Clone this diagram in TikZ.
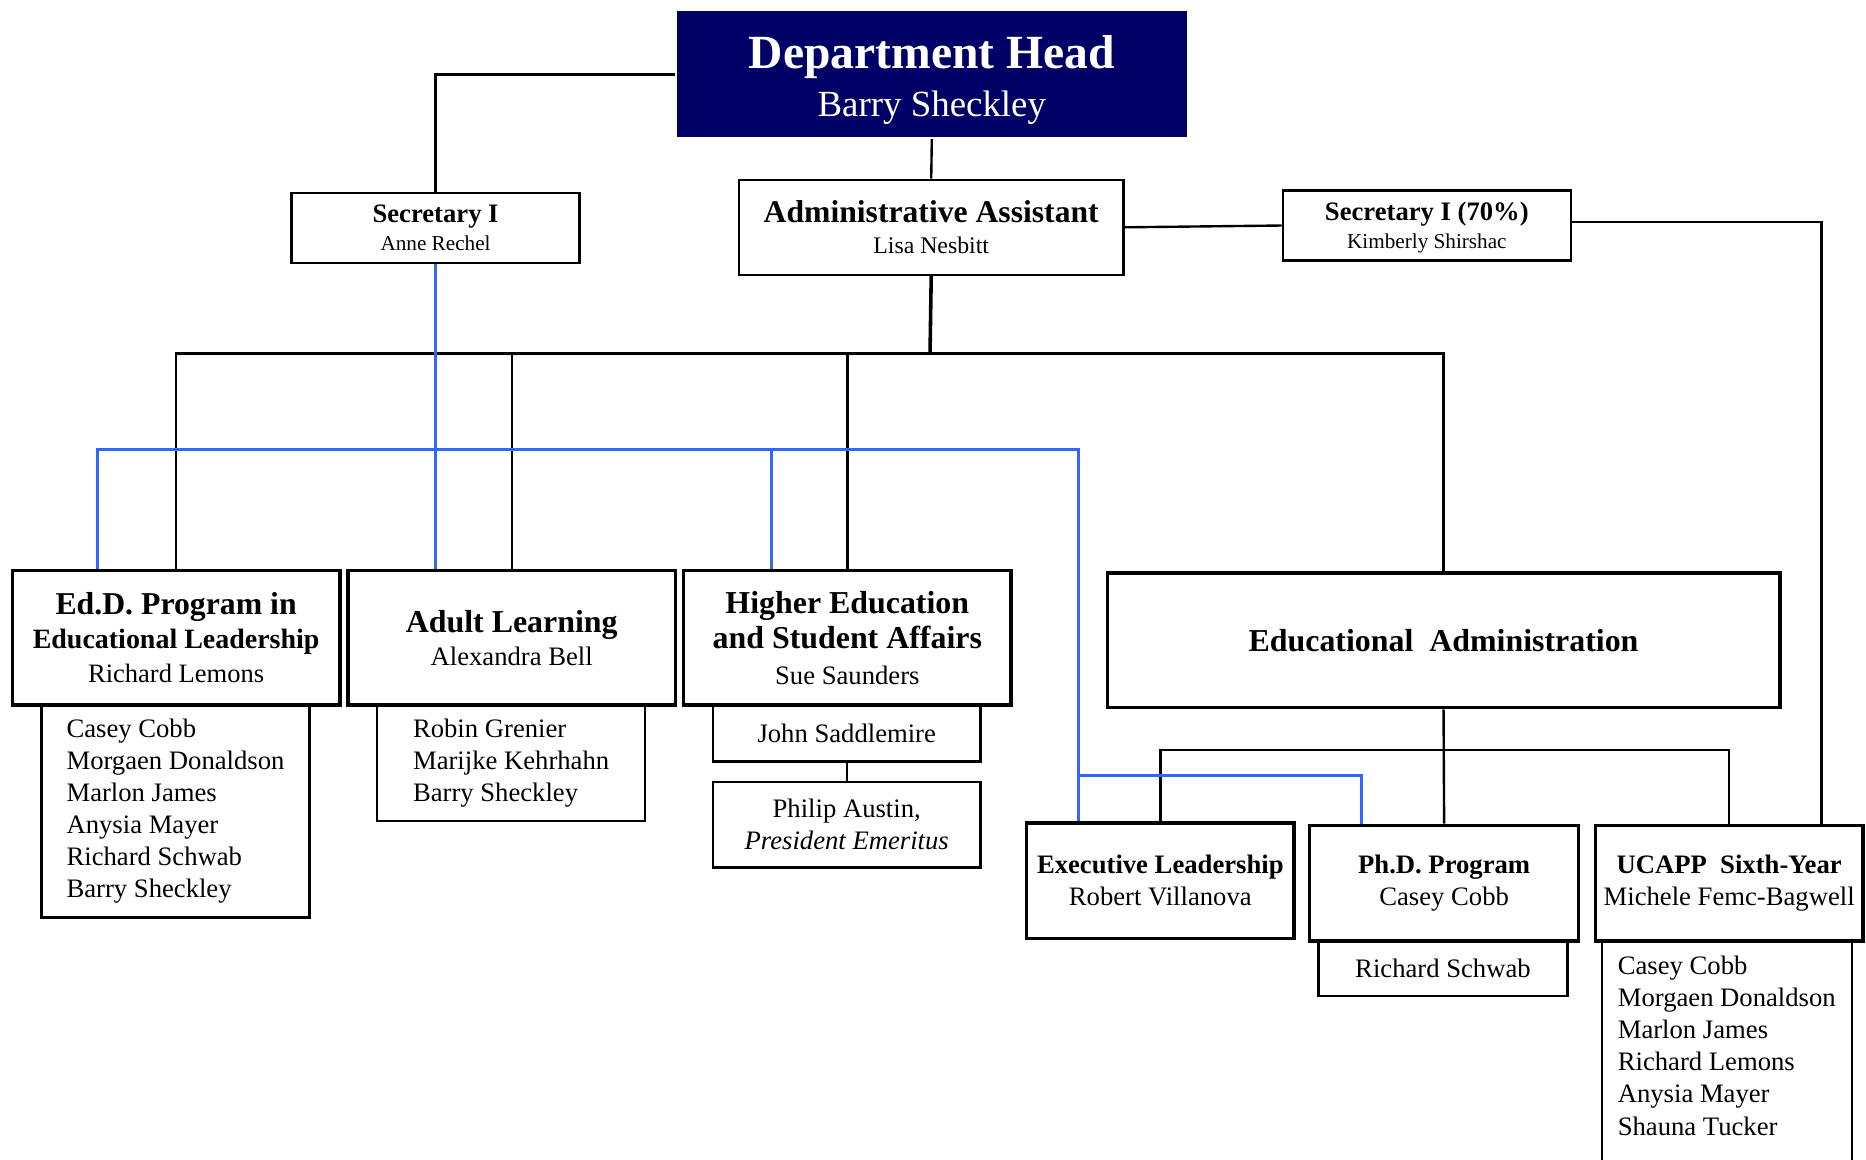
\documentclass[tikz,border=0pt]{standalone}
\usepackage{fontspec}
\setmainfont{Liberation Serif}
\usepackage{tikz}
\definecolor{navyhead}{HTML}{000066}
\definecolor{linkblue}{HTML}{3366FF}
\newcommand{\progfont}{\fontsize{26.8}{28}\selectfont\bfseries}
\tikzset{
  unitbox/.style={draw, line width=3pt, anchor=north west, align=center, inner sep=0pt},
  staffbox/.style={unitbox, line width=2pt},
  listbox/.style={draw, line width=2pt, anchor=north west, align=left, inner sep=0pt,
    font=\fontsize{22.4}{27}\selectfont},
  link/.style={line width=2pt},
  bluelink/.style={line width=2.4pt, draw=linkblue},
}
\begin{document}
\begin{tikzpicture}[x=1pt,y=-1pt]
\useasboundingbox (0,0) rectangle (1568,974);
\clip (0,0) rectangle (1568,974);
% Head and staff
\node[unitbox, draw=none, fill=navyhead, text=white, minimum width=429pt, minimum height=106pt,
  text height=77pt, font=\fontsize{31}{40}\selectfont] (head) at (567,8)
  {{\fontsize{40}{40}\selectfont\bfseries Department Head}\\ Barry Sheckley};
\node[staffbox, minimum width=242pt, minimum height=59pt, font=\fontsize{17.8}{23}\selectfont] (secI) at (244,161)
  {{\fontsize{22.4}{24}\selectfont\bfseries Secretary I}\\ Anne Rechel};
\node[staffbox, minimum width=323pt, minimum height=80pt, font=\fontsize{20}{26}\selectfont] (admin) at (620,150)
  {{\fontsize{26.6}{28}\selectfont\bfseries Administrative Assistant}\\ Lisa Nesbitt};
\node[staffbox, minimum width=242pt, minimum height=59pt, text height=43pt, font=\fontsize{17.8}{24}\selectfont] (secII) at (1077,159)
  {{\fontsize{22.4}{24}\selectfont\bfseries Secretary I (70\%)}\\ Kimberly Shirshac};
% Programs
\node[unitbox, minimum width=275pt, minimum height=113pt, font=\fontsize{22.3}{28.5}\selectfont] (edd) at (9,478)
  {{\fontsize{26.7}{28}\selectfont\bfseries Ed.D. Program in}\\
   {\fontsize{23.5}{28}\selectfont\bfseries Educational Leadership}\\ Richard Lemons};
\node[unitbox, minimum width=275pt, minimum height=113pt, font=\fontsize{22.4}{28}\selectfont] (adult) at (291,478)
  {{\progfont Adult Learning}\\ Alexandra Bell};
\node[unitbox, minimum width=275pt, minimum height=113pt, font=\fontsize{22.4}{30}\selectfont] (hesa) at (573,478)
  {{\progfont Higher Education}\\ {\progfont and Student Affairs}\\ Sue Saunders};
\node[unitbox, minimum width=565pt, minimum height=113pt] (edadm) at (929,480)
  {\progfont Educational\hspace{0.25em} Administration};
\node[unitbox, minimum width=225pt, minimum height=97pt, font=\fontsize{22.4}{27}\selectfont] (exec) at (861,690)
  {{\bfseries Executive Leadership}\\ Robert Villanova};
\node[unitbox, minimum width=226pt, minimum height=97pt, font=\fontsize{22.4}{27}\selectfont] (phd) at (1099,692)
  {{\bfseries Ph.D. Program}\\ Casey Cobb};
\node[unitbox, minimum width=225pt, minimum height=97pt, font=\fontsize{22.4}{27}\selectfont] (ucapp) at (1339,692)
  {{\bfseries UCAPP\hspace{0.25em} Sixth-Year}\\ Michele Femc-Bagwell};
% Faculty lists
\node[listbox, minimum width=225pt, minimum height=179pt] (eddList) at (34,591)
  {Casey Cobb\\ Morgaen Donaldson\\ Marlon James\\ Anysia Mayer\\ Richard Schwab\\ Barry Sheckley};
\node[listbox, minimum width=225pt, minimum height=98pt] (adultList) at (316,591)
  {Robin Grenier\\ Marijke Kehrhahn\\ Barry Sheckley};
\node[listbox, align=center, minimum width=225pt, minimum height=48pt] (saddle) at (598,591)
  {John Saddlemire};
\node[listbox, align=center, minimum width=225pt, minimum height=72pt] (austin) at (598,656)
  {Philip Austin,\\ \textit{President Emeritus}};
\node[listbox, align=center, minimum width=209pt, minimum height=47pt] (schwab) at (1107,789)
  {Richard Schwab};
\node[listbox, minimum width=210pt, minimum height=200pt, text depth=23pt] (ucappList) at (1345,789)
  {Casey Cobb\\ Morgaen Donaldson\\ Marlon James\\ Richard Lemons\\ Anysia Mayer\\ Shauna Tucker};
%
% Reporting lines
\coordinate (trunk) at (781.5,297);
\coordinate (edBus) at (1211.5,630);
\draw[ link] (head.west) -| (secI.north);
\draw[ link] (head.south) -- (admin.north);
\draw[ link] (admin.east) -- (secII.west);
\draw[ link] ([yshift=3pt]secII.east) -| ([xshift=77.5pt]ucapp.north);
\draw[ line width=3pt] (admin.south) -- (trunk);
\draw[ link] (edd.north) |- (trunk) -| (edadm.north);
\draw[ link] (adult.north) -- (adult.north |- trunk);
\draw[ link] (hesa.north) -- (hesa.north |- trunk);
\draw[ link] (saddle.south) -- (austin.north);
\draw[ link] (edadm.south) -- (phd.north);
\draw[ link] (exec.north) |- (edBus) -| (ucapp.north);
% Secretary support (blue)
\coordinate (blueL) at (82,378);
\coordinate (blueH) at (648,378);
\coordinate (blueR) at (906,378);
\coordinate (blueP) at (1144,652);
\draw[ bluelink] (secI.south) -- (secI.south |- adult.north);
\draw[ bluelink] (edd.north -| blueL) -- (blueL) -- (blueR) -- (exec.north -| blueR);
\draw[ bluelink] (blueH) -- (hesa.north -| blueH);
\draw[ bluelink] (blueR |- blueP) -- (blueP) -- (phd.north -| blueP);
\end{tikzpicture}
\end{document}
